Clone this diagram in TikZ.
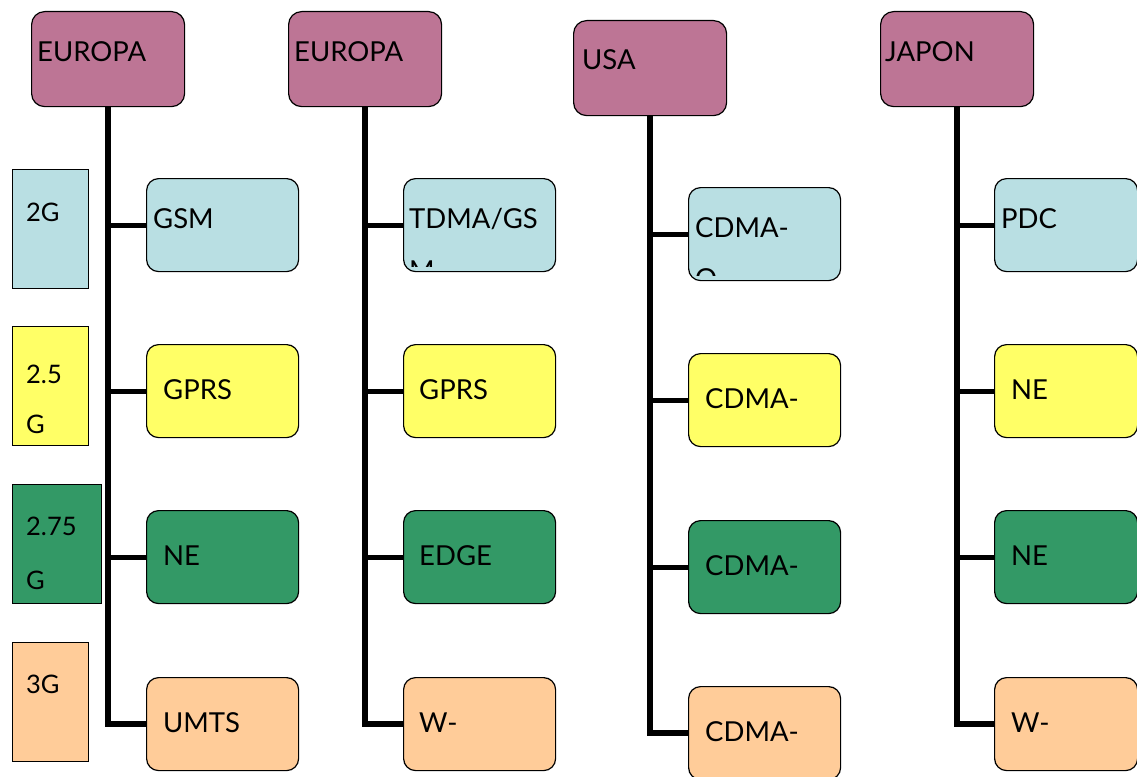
\documentclass[tikz,border=0pt]{standalone}
\usepackage{fontspec}
\setmainfont{Lato}
\definecolor{mauve}{RGB}{189,117,149}
\definecolor{lblue}{RGB}{185,223,227}
\definecolor{lyellow}{RGB}{255,255,102}
\definecolor{lgreen}{RGB}{51,153,102}
\definecolor{lorange}{RGB}{255,204,153}
\tikzset{
  hdr/.style={draw, fill=mauve, rounded corners=13pt, minimum width=153pt, minimum height=95pt, anchor=north west, line width=1.2pt, inner sep=0pt},
  kid/.style={draw, rounded corners=12pt, minimum width=152pt, minimum height=93pt, anchor=north west, line width=1.2pt, inner sep=0pt},
  lbl/.style={draw, minimum width=76pt, minimum height=119pt, anchor=north west, line width=1.2pt, inner sep=0pt},
  txt/.style={anchor=base west, inner sep=0pt, font=\fontsize{27.5}{32}\selectfont},
  ltxt/.style={anchor=base west, inner sep=0pt, font=\fontsize{25.5}{30}\selectfont},
  trunk/.style={line width=6pt, line join=miter},
  branch/.style={line width=5pt},
}
\begin{document}
\begin{tikzpicture}[x=1pt,y=-1pt]
\useasboundingbox (0,0) rectangle (1137,776);
% left generation labels
\node[lbl, fill=lblue] (g1) at (12,169) {};
\node[lbl, fill=lyellow] (g2) at (12,326) {};
\node[lbl, fill=lgreen, minimum width=89pt] (g3) at (12,484) {};
\node[lbl, fill=lorange] (g4) at (12,642) {};
\node[ltxt] (g1t) at (26,221) {2G};
\node[ltxt] (g2t) at (26,383) {2.5};
\node[ltxt] (g2u) at (26,433) {G};
\node[ltxt] (g3t) at (26,535) {2.75};
\node[ltxt] (g3u) at (26,589) {G};
\node[ltxt] (g4t) at (26,693) {3G};
% headers
\node[hdr] (h1) at (31,11) {};
\node[hdr] (h2) at (288,11) {};
\node[hdr] (h3) at (573,20) {};
\node[hdr] (h4) at (880,11) {};
\node[txt] (h1t) at (37,61) {EUROPA};
\node[txt] (h2t) at (294,61) {EUROPA};
\node[txt] (h3t) at (582,70) {USA};
\node[txt] (h4t) at (885,61) {JAPON};
% column 1
\node[kid, fill=lblue] (k11) at (146,178) {};
\node[kid, fill=lyellow] (k12) at (146,344) {};
\node[kid, fill=lgreen] (k13) at (146,510) {};
\node[kid, fill=lorange] (k14) at (146,677) {};
\node[txt] (k11t) at (153,228) {GSM};
\node[txt] (k12t) at (163,399) {GPRS};
\node[txt] (k13t) at (163,565) {NE};
\node[txt] (k14t) at (163,732) {UMTS};
% column 2
\node[kid, fill=lblue] (k21) at (403,178) {};
\node[kid, fill=lyellow] (k22) at (403,344) {};
\node[kid, fill=lgreen] (k23) at (403,510) {};
\node[kid, fill=lorange] (k24) at (403,677) {};
\node[txt] (k21t) at (409,228) {TDMA/GS};
\begin{scope}
\clip (403,178) rectangle (555,266);
\node[txt] (k21u) at (409,280) {M};
\end{scope}
\node[txt] (k22t) at (419,399) {GPRS};
\node[txt] (k23t) at (419,565) {EDGE};
\node[txt] (k24t) at (419,732) {W-};
% column 3
\node[kid, fill=lblue] (k31) at (688,187) {};
\node[kid, fill=lyellow] (k32) at (688,353) {};
\node[kid, fill=lgreen] (k33) at (688,520) {};
\node[kid, fill=lorange] (k34) at (688,686) {};
\node[txt] (k31t) at (695,237) {CDMA-};
\begin{scope}
\clip (688,187) rectangle (840,275);
\node[txt] (k31u) at (695,288) {O};
\end{scope}
\node[txt] (k32t) at (705,408) {CDMA-};
\node[txt] (k33t) at (705,575) {CDMA-};
\node[txt] (k34t) at (705,741) {CDMA-};
% column 4
\node[kid, fill=lblue, minimum width=143pt] (k41) at (994,178) {};
\node[kid, fill=lyellow, minimum width=143pt] (k42) at (994,344) {};
\node[kid, fill=lgreen, minimum width=143pt] (k43) at (994,510) {};
\node[kid, fill=lorange, minimum width=143pt] (k44) at (994,677) {};
\node[txt] (k41t) at (1001,228) {PDC};
\node[txt] (k42t) at (1011,399) {NE};
\node[txt] (k43t) at (1011,565) {NE};
\node[txt] (k44t) at (1011,732) {W-};
% connectors
\foreach \c in {1,2,3,4}{
  \draw[trunk] (h\c.south) |- (k\c4.west);
  \foreach \r in {1,2,3}{
    \draw[branch] (h\c.south |- k\c\r.west) -- (k\c\r.west);
  }
}
\end{tikzpicture}
\end{document}
